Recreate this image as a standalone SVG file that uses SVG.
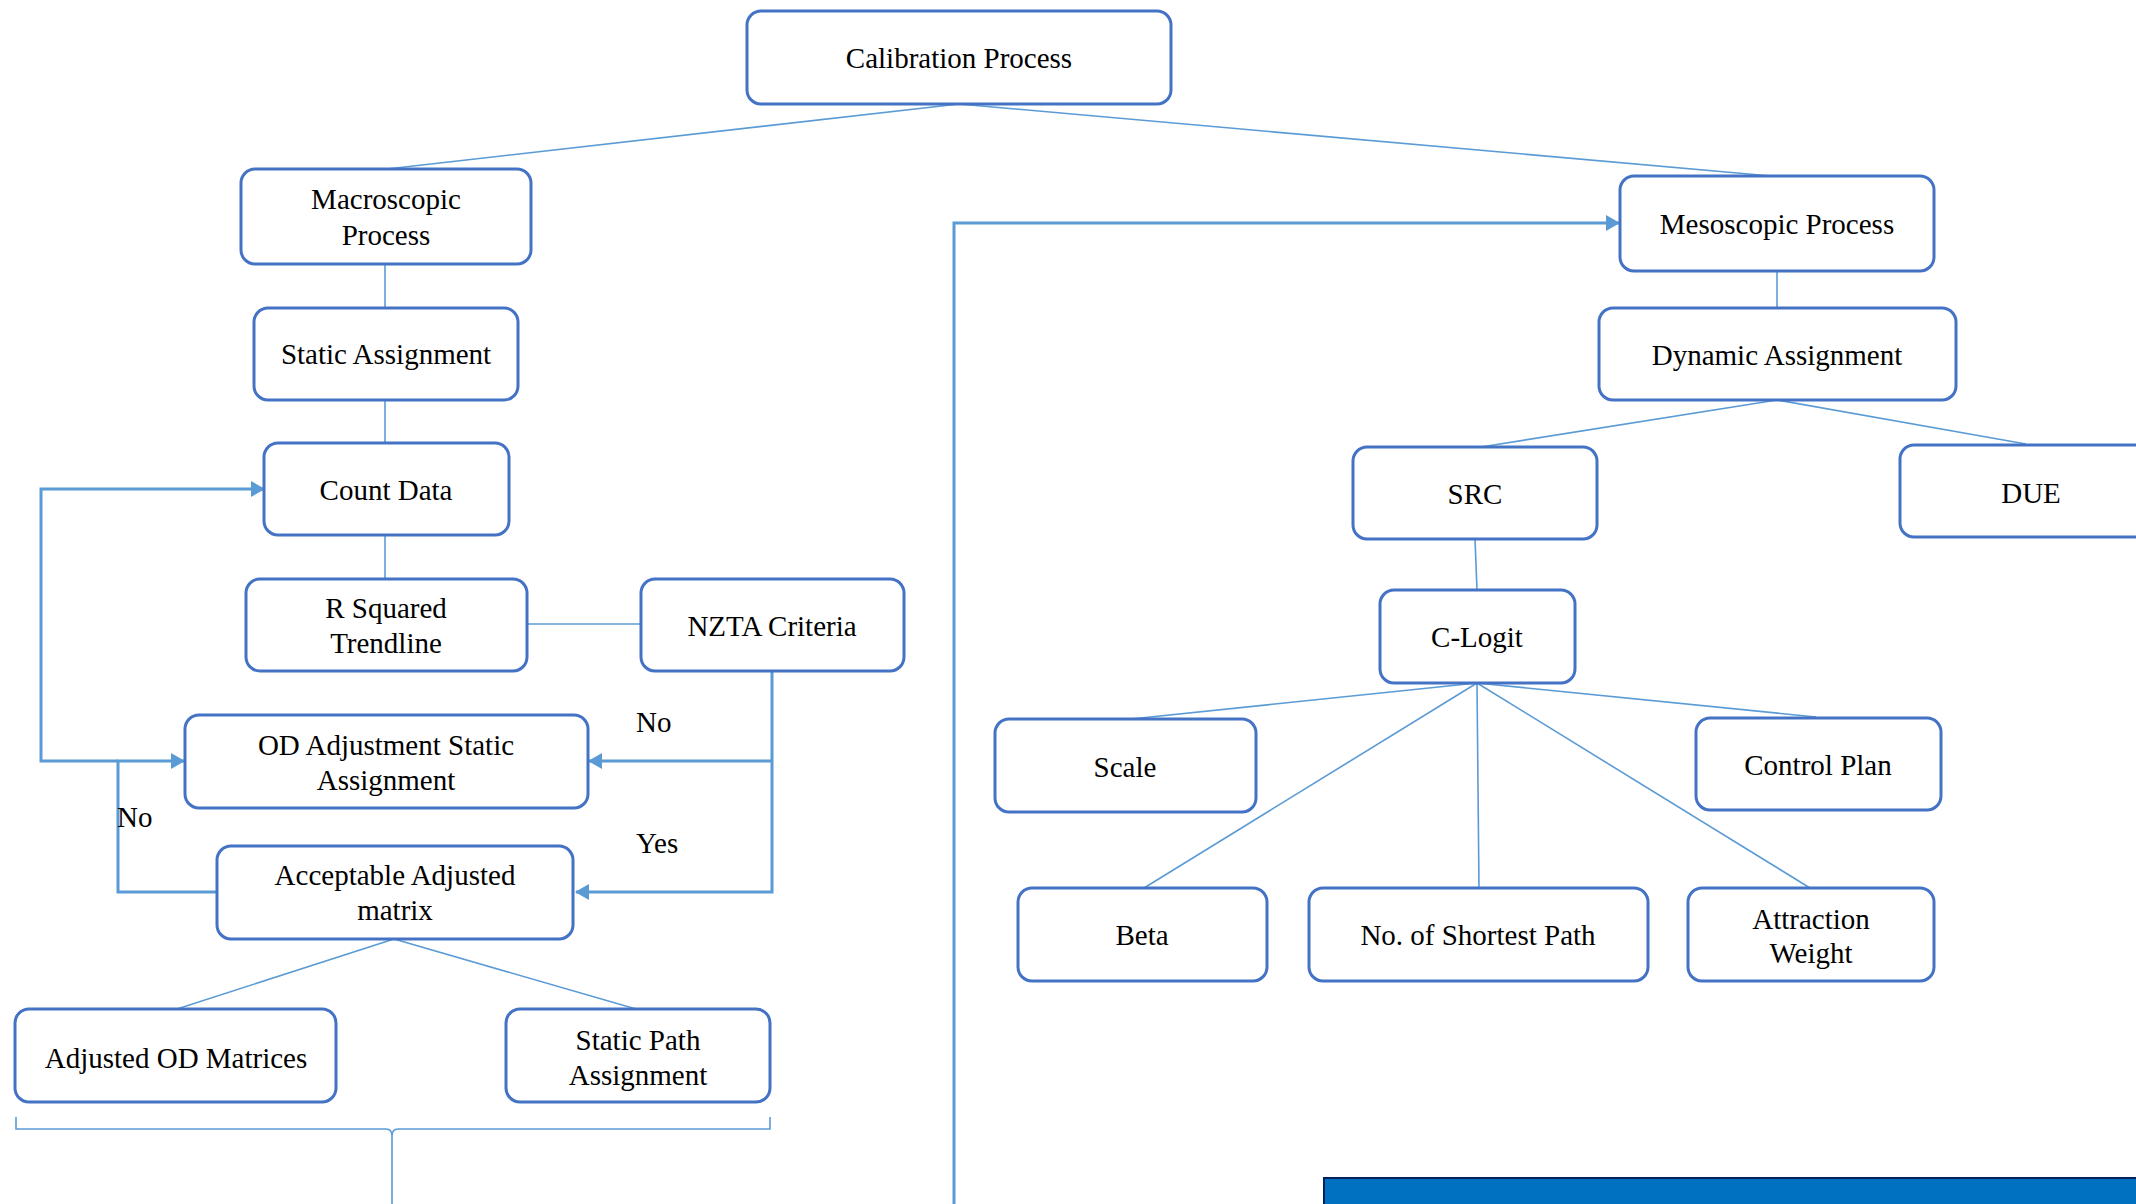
<svg xmlns="http://www.w3.org/2000/svg" width="2136" height="1204" viewBox="0 0 2136 1204">
<style>
.box{fill:#fff;stroke:#4472C4;stroke-width:3}
.t{font-family:"Liberation Serif","Times New Roman",serif;font-size:29px;fill:#000;text-anchor:middle}
.lbl{font-family:"Liberation Serif","Times New Roman",serif;font-size:29px;fill:#000}
.c{fill:none;stroke:#5B9BD5;stroke-width:1.6}
.a{fill:none;stroke:#5B9BD5;stroke-width:3}
</style>
<defs>
<marker id="ah" markerUnits="userSpaceOnUse" markerWidth="14" markerHeight="16" refX="13" refY="8" orient="auto">
<path d="M0,0 L14,8 L0,16 Z" fill="#5B9BD5"/>
</marker>
</defs>
<rect width="2136" height="1204" fill="#fff"/>
<g id="connectors">
<line class="c" x1="959" y1="104" x2="387" y2="169"/>
<line class="c" x1="959" y1="104" x2="1771" y2="176"/>
<line class="c" x1="385" y1="264" x2="385" y2="308"/>
<line class="c" x1="385" y1="400" x2="385" y2="443"/>
<line class="c" x1="385" y1="535" x2="385" y2="579"/>
<line class="c" x1="527" y1="624" x2="640" y2="624"/>
<line class="c" x1="394" y1="939" x2="177" y2="1009"/>
<line class="c" x1="394" y1="939" x2="636" y2="1009"/>
<line class="c" x1="1777" y1="271" x2="1777" y2="308"/>
<line class="c" x1="1777" y1="400" x2="1481" y2="447"/>
<line class="c" x1="1777" y1="400" x2="2026" y2="444"/>
<line class="c" x1="1475" y1="539" x2="1477" y2="590"/>
<line class="c" x1="1477" y1="683" x2="1131" y2="719"/>
<line class="c" x1="1477" y1="683" x2="1816" y2="717"/>
<line class="c" x1="1477" y1="683" x2="1144" y2="888"/>
<line class="c" x1="1477" y1="683" x2="1479" y2="888"/>
<line class="c" x1="1477" y1="683" x2="1810" y2="888"/>
<path class="a" d="M772,672 V892 H576" marker-end="url(#ah)"/>
<path class="a" d="M772,761 H589" marker-end="url(#ah)"/>
<path class="a" d="M217,892 H118 V761 H184" marker-end="url(#ah)"/>
<path class="a" d="M118,761 H41 V489 H264" marker-end="url(#ah)"/>
<path class="a" d="M954,1204 V223 H1619" marker-end="url(#ah)"/>
<path class="c" d="M16,1117 V1129 H386 Q392,1129 392,1136 Q392,1129 398,1129 H770 V1117 M392,1136 V1204"/>
</g>
<g id="n-calibration"><rect class="box" x="747" y="11" width="424" height="93" rx="14"/><text class="t" x="959" y="68">Calibration Process</text></g>
<g id="n-macroscopic"><rect class="box" x="241" y="169" width="290" height="95" rx="14"/><text class="t" x="386" y="209">Macroscopic</text><text class="t" x="386" y="245">Process</text></g>
<g id="n-static"><rect class="box" x="254" y="308" width="264" height="92" rx="14"/><text class="t" x="386" y="364">Static Assignment</text></g>
<g id="n-count"><rect class="box" x="264" y="443" width="245" height="92" rx="14"/><text class="t" x="386" y="500">Count Data</text></g>
<g id="n-rsquared"><rect class="box" x="246" y="579" width="281" height="92" rx="14"/><text class="t" x="386" y="618">R Squared</text><text class="t" x="386" y="653">Trendline</text></g>
<g id="n-nzta"><rect class="box" x="641" y="579" width="263" height="92" rx="14"/><text class="t" x="772" y="636">NZTA Criteria</text></g>
<g id="n-odadj"><rect class="box" x="185" y="715" width="403" height="93" rx="14"/><text class="t" x="386" y="755">OD Adjustment Static</text><text class="t" x="386" y="790">Assignment</text></g>
<g id="n-acceptable"><rect class="box" x="217" y="846" width="356" height="93" rx="14"/><text class="t" x="395" y="885">Acceptable Adjusted</text><text class="t" x="395" y="920">matrix</text></g>
<g id="n-adjod"><rect class="box" x="15" y="1009" width="321" height="93" rx="14"/><text class="t" x="176" y="1068">Adjusted OD Matrices</text></g>
<g id="n-staticpath"><rect class="box" x="506" y="1009" width="264" height="93" rx="14"/><text class="t" x="638" y="1050">Static Path</text><text class="t" x="638" y="1085">Assignment</text></g>
<g id="n-mesoscopic"><rect class="box" x="1620" y="176" width="314" height="95" rx="14"/><text class="t" x="1777" y="234">Mesoscopic Process</text></g>
<g id="n-dynamic"><rect class="box" x="1599" y="308" width="357" height="92" rx="14"/><text class="t" x="1777" y="365">Dynamic Assignment</text></g>
<g id="n-src"><rect class="box" x="1353" y="447" width="244" height="92" rx="14"/><text class="t" x="1475" y="504">SRC</text></g>
<g id="n-due"><rect class="box" x="1900" y="445" width="260" height="92" rx="14"/><text class="t" x="2031" y="503">DUE</text></g>
<g id="n-clogit"><rect class="box" x="1380" y="590" width="195" height="93" rx="14"/><text class="t" x="1477" y="647">C-Logit</text></g>
<g id="n-scale"><rect class="box" x="995" y="719" width="261" height="93" rx="14"/><text class="t" x="1125" y="777">Scale</text></g>
<g id="n-control"><rect class="box" x="1696" y="718" width="245" height="92" rx="14"/><text class="t" x="1818" y="775">Control Plan</text></g>
<g id="n-beta"><rect class="box" x="1018" y="888" width="249" height="93" rx="14"/><text class="t" x="1142" y="945">Beta</text></g>
<g id="n-shortest"><rect class="box" x="1309" y="888" width="339" height="93" rx="14"/><text class="t" x="1478" y="945">No. of Shortest Path</text></g>
<g id="n-attraction"><rect class="box" x="1688" y="888" width="246" height="93" rx="14"/><text class="t" x="1811" y="929">Attraction</text><text class="t" x="1811" y="963">Weight</text></g>
<g id="labels">
<text class="lbl" x="636" y="732">No</text>
<text class="lbl" x="636" y="853">Yes</text>
<text class="lbl" x="117" y="827">No</text>
</g>
<g id="banner">
<rect x="1324" y="1178" width="830" height="40" fill="#0070C0" stroke="#002060" stroke-width="2"/>
</g>
</svg>
